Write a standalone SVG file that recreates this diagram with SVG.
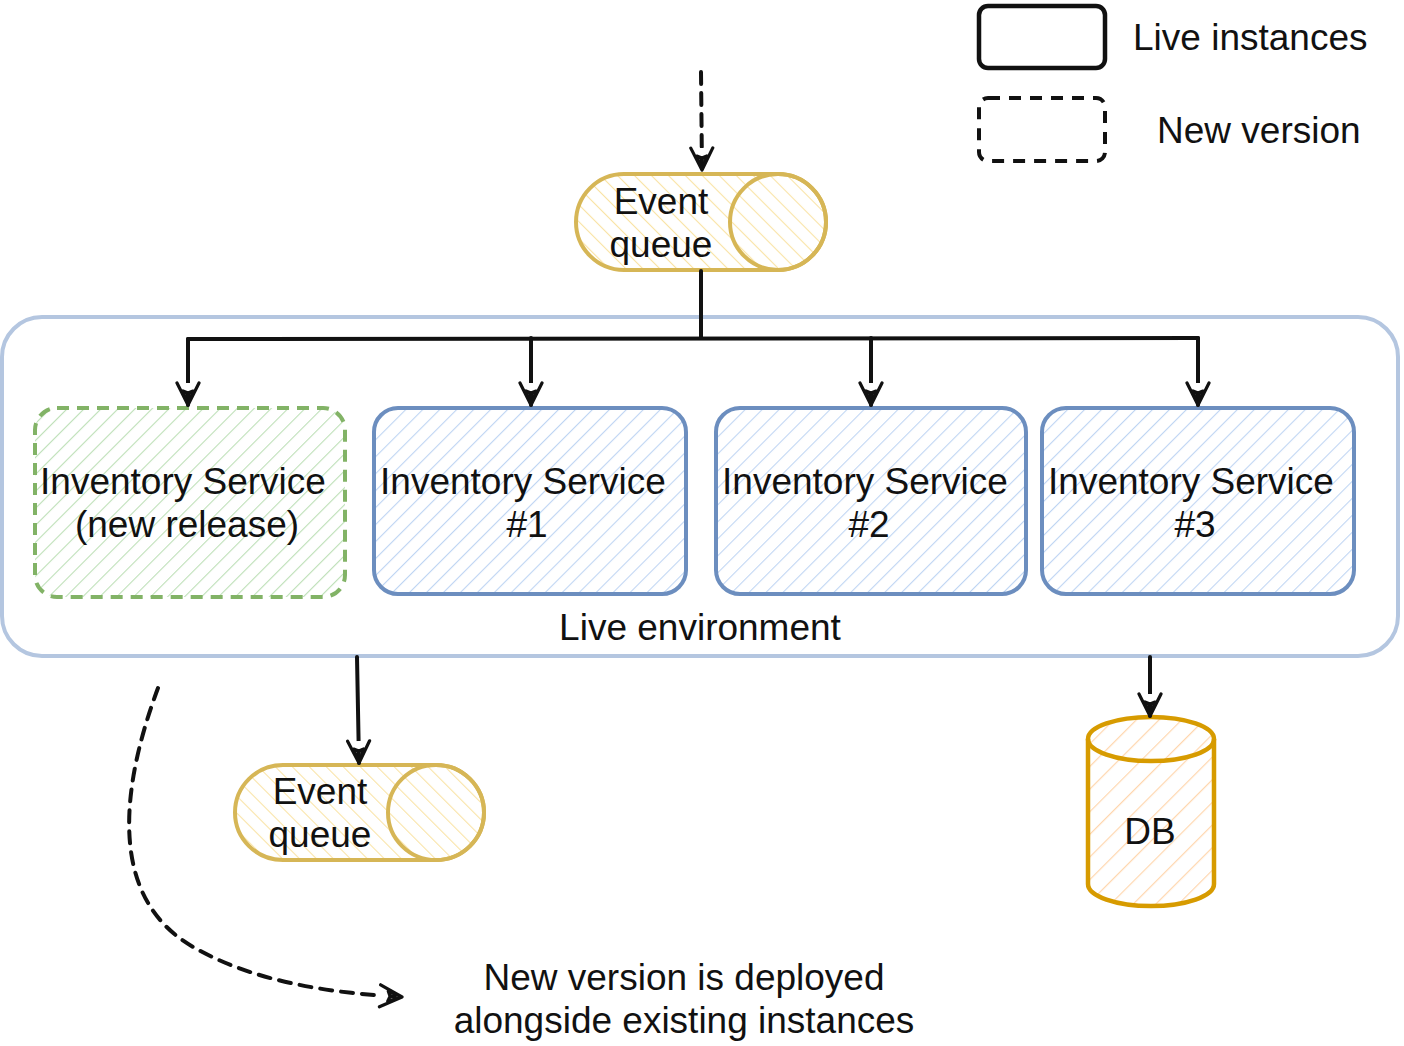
<svg xmlns="http://www.w3.org/2000/svg" width="1404" height="1046" viewBox="0 0 1404 1046">
<defs>
  <pattern id="hBlue" width="12" height="12" patternUnits="userSpaceOnUse" patternTransform="rotate(45)">
    <line x1="0" y1="0" x2="0" y2="12" stroke="#bfd5f3" stroke-width="2.2"/>
  </pattern>
  <pattern id="hGreen" width="12" height="12" patternUnits="userSpaceOnUse" patternTransform="rotate(45)">
    <line x1="0" y1="0" x2="0" y2="12" stroke="#bcdfb6" stroke-width="2.2"/>
  </pattern>
  <pattern id="hYellow" width="12" height="12" patternUnits="userSpaceOnUse" patternTransform="rotate(-45)">
    <line x1="0" y1="0" x2="0" y2="12" stroke="#f9e3a5" stroke-width="2.2"/>
  </pattern>
  <pattern id="hOrange" width="16" height="16" patternUnits="userSpaceOnUse" patternTransform="rotate(45)">
    <line x1="0" y1="0" x2="0" y2="16" stroke="#ffd6ad" stroke-width="2.4"/>
  </pattern>
  <marker id="arr" viewBox="0 0 26 26" refX="24" refY="13" markerWidth="26" markerHeight="26" markerUnits="userSpaceOnUse" orient="auto">
    <path d="M2,2 L24,13 L2,24 M24,13 L10,8 L12,13 L10,18 Z" fill="#ffffff" stroke="#111111" stroke-width="3.2" stroke-linejoin="round" stroke-linecap="round"/>
  </marker>
  <style>
    text { font-family: "Liberation Sans", Arial, sans-serif; font-size: 37px; fill: #111111; }
    .c { text-anchor: middle; }
    .svc { fill: url(#hBlue); stroke: #6c8ebf; stroke-width: 4; }
    .conn { fill: none; stroke: #111111; stroke-width: 4; stroke-linecap: round; stroke-linejoin: round; }
    .dash { stroke-dasharray: 12 9; }
    .q { fill: url(#hYellow); stroke: #d6b656; stroke-width: 4; }
  </style>
</defs>

<g id="legend">
  <rect x="979" y="6" width="126" height="62" rx="9" fill="none" stroke="#111111" stroke-width="4.5"/>
  <text x="1133" y="50">Live instances</text>
  <rect x="979" y="98" width="126" height="63" rx="9" fill="none" stroke="#111111" stroke-width="4" stroke-dasharray="12 9"/>
  <text x="1157" y="143">New version</text>
</g>

<g id="live-environment">
  <rect x="2" y="317" width="1396" height="339" rx="40" fill="none" stroke="#b4c6e0" stroke-width="4"/>
  <text class="c" x="700" y="640">Live environment</text>
</g>

<g id="event-queue-top">
  <path class="q" d="M624,174 L778,174 A48,48 0 0 1 778,270 L624,270 A48,48 0 0 1 624,174 Z"/>
  <ellipse cx="778" cy="222" rx="48" ry="48" fill="none" stroke="#d6b656" stroke-width="4"/>
  <text class="c" x="661" y="214">Event</text>
  <text class="c" x="661" y="257">queue</text>
</g>

<g id="service-new">
  <rect x="35" y="408" width="310" height="189" rx="22" fill="url(#hGreen)" stroke="#82b366" stroke-width="4" stroke-dasharray="12 8"/>
  <text class="c" x="183" y="494">Inventory Service</text>
  <text class="c" x="187" y="537">(new release)</text>
</g>

<g id="service-1">
  <rect class="svc" x="374" y="408" width="312" height="186" rx="24"/>
  <text class="c" x="523" y="494">Inventory Service</text>
  <text class="c" x="527" y="537">#1</text>
</g>

<g id="service-2">
  <rect class="svc" x="716" y="408" width="310" height="186" rx="24"/>
  <text class="c" x="865" y="494">Inventory Service</text>
  <text class="c" x="869" y="537">#2</text>
</g>

<g id="service-3">
  <rect class="svc" x="1042" y="408" width="312" height="186" rx="24"/>
  <text class="c" x="1191" y="494">Inventory Service</text>
  <text class="c" x="1195" y="537">#3</text>
</g>

<g id="event-queue-bottom">
  <path class="q" d="M283,765 L436,765 A48,47.5 0 0 1 436,860 L283,860 A48,47.5 0 0 1 283,765 Z"/>
  <ellipse cx="436" cy="812.5" rx="48" ry="47.5" fill="none" stroke="#d6b656" stroke-width="4"/>
  <text class="c" x="320" y="804">Event</text>
  <text class="c" x="320" y="847">queue</text>
</g>

<g id="db">
  <path d="M1088,739 L1088,884 A63,22 0 0 0 1214,884 L1214,739 A63,22 0 0 0 1088,739 Z" fill="url(#hOrange)" stroke="#d79b00" stroke-width="4.5"/>
  <path d="M1088,739 A63,22 0 0 0 1214,739" fill="none" stroke="#d79b00" stroke-width="4.5"/>
  <text class="c" x="1150" y="844">DB</text>
</g>

<g id="note">
  <text class="c" x="684" y="990">New version is deployed</text>
  <text class="c" x="684" y="1033">alongside existing instances</text>
</g>

<g id="connectors">
  <path class="conn dash" d="M701,72 L702,170" marker-end="url(#arr)"/>
  <path class="conn" d="M701,271 L701,337"/>
  <path class="conn" d="M188,339 L1198,338"/>
  <path class="conn" d="M188,339 L188,405" marker-end="url(#arr)"/>
  <path class="conn" d="M531,338 L531,405" marker-end="url(#arr)"/>
  <path class="conn" d="M871,338 L871,405" marker-end="url(#arr)"/>
  <path class="conn" d="M1198,338 L1198,405" marker-end="url(#arr)"/>
  <path class="conn" d="M357,657 L359,763" marker-end="url(#arr)"/>
  <path class="conn" d="M1150,657 L1150,716" marker-end="url(#arr)"/>
  <path class="conn dash" d="M158,688 C120,790 108,900 195,948 C255,982 330,993 402,997" marker-end="url(#arr)"/>
</g>
</svg>
